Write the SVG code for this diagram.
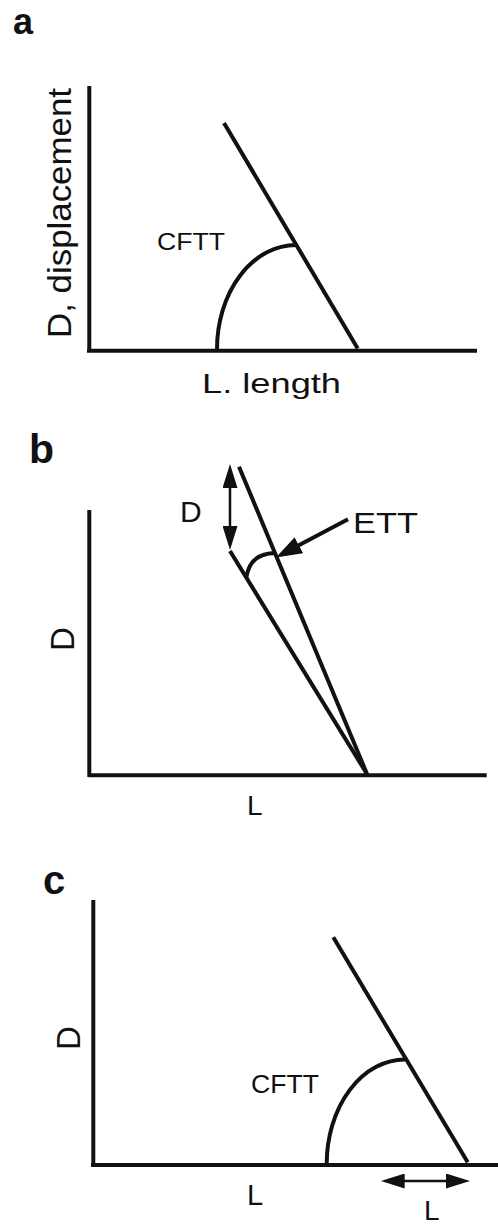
<svg xmlns="http://www.w3.org/2000/svg" width="498" height="1224" viewBox="0 0 498 1224">
<style>
.ln{stroke:#111;stroke-width:4;fill:none;stroke-linecap:butt}
.thin{stroke:#111;stroke-width:2.5;fill:none}
.t{font-family:"Liberation Sans",Arial,sans-serif;fill:#111}
.pl{font-family:"Liberation Sans",Arial,sans-serif;font-weight:bold;fill:#111}
</style>
<defs>
<marker id="ah" viewBox="0 0 24 15" markerWidth="24" markerHeight="15" refX="16" refY="7.5" orient="auto-start-reverse" markerUnits="userSpaceOnUse">
<path d="M0,0 L24,7.5 L0,15 z" fill="#111"/>
</marker>
<marker id="ah2" viewBox="0 0 26 18" markerWidth="26" markerHeight="18" refX="14" refY="9" orient="auto" markerUnits="userSpaceOnUse">
<path d="M0,0 L26,9 L0,18 z" fill="#111"/>
</marker>
</defs>
<rect width="498" height="1224" fill="#fff"/>

<g id="panel-a">
<text class="pl" x="13" y="34" font-size="36">a</text>
<g id="a-axes">
<line class="ln" x1="89.3" y1="86" x2="89.3" y2="352"/>
<line class="ln" x1="87" y1="350.7" x2="477" y2="350.7"/>
</g>
<g id="a-line"><line class="ln" x1="224" y1="123" x2="357.7" y2="348.5"/></g>
<g id="a-arc"><path class="ln" d="M217,349 A79,104 0 0 1 296,245"/></g>
<text class="t" x="157" y="250" font-size="24" textLength="68" lengthAdjust="spacingAndGlyphs">CFTT</text>
<text class="t" transform="translate(71,213) rotate(-90)" text-anchor="middle" font-size="34" textLength="250" lengthAdjust="spacingAndGlyphs">D, displacement</text>
<text class="t" x="202" y="393" font-size="28" textLength="139" lengthAdjust="spacingAndGlyphs">L. length</text>
</g>

<g id="panel-b">
<text class="pl" x="29" y="463" font-size="41">b</text>
<g id="b-axes">
<line class="ln" x1="89.3" y1="510" x2="89.3" y2="777"/>
<line class="ln" x1="89" y1="775.3" x2="486.7" y2="775.3"/>
</g>
<g id="b-line1"><line class="ln" x1="239" y1="466.7" x2="367" y2="774"/></g>
<g id="b-line2"><line class="ln" x1="230" y1="551" x2="367" y2="774"/></g>
<g id="b-arc"><path class="ln" d="M246.5,577 Q250,553 276,553"/></g>
<text class="t" x="180" y="521.7" font-size="30">D</text>
<text class="t" x="353" y="533" font-size="30" textLength="65" lengthAdjust="spacingAndGlyphs">ETT</text>
<text class="t" transform="translate(74,639) rotate(-90)" text-anchor="middle" font-size="33">D</text>
<text class="t" x="247" y="815" font-size="28">L</text>
</g>

<g id="panel-c">
<text class="pl" x="43" y="894" font-size="40">c</text>
<g id="c-axes">
<line class="ln" x1="93.3" y1="900" x2="93.3" y2="1167"/>
<line class="ln" x1="91" y1="1165" x2="313" y2="1165"/>
<line class="ln" x1="313" y1="1165" x2="498" y2="1165" stroke-width="4.8"/>
</g>
<g id="c-line"><line class="ln" x1="333.3" y1="937.3" x2="467.7" y2="1162.3"/></g>
<g id="c-arc"><path class="ln" d="M326.7,1164 A78.3,104.5 0 0 1 405,1059.5"/></g>
<text class="t" x="251" y="1092.5" font-size="26" textLength="68" lengthAdjust="spacingAndGlyphs">CFTT</text>
<text class="t" transform="translate(80,1038) rotate(-90)" text-anchor="middle" font-size="33">D</text>
<text class="t" x="247" y="1205" font-size="29">L</text>
<text class="t" x="424" y="1219.5" font-size="28">L</text>
</g>

<g id="connectors">
<line class="thin" x1="230" y1="472" x2="230" y2="542" marker-start="url(#ah)" marker-end="url(#ah)"/>
<line class="ln" x1="348" y1="519.3" x2="286.5" y2="551.8" marker-end="url(#ah2)"/>
<line class="thin" x1="388.7" y1="1181" x2="462" y2="1181" marker-start="url(#ah)" marker-end="url(#ah)"/>
</g>
</svg>
